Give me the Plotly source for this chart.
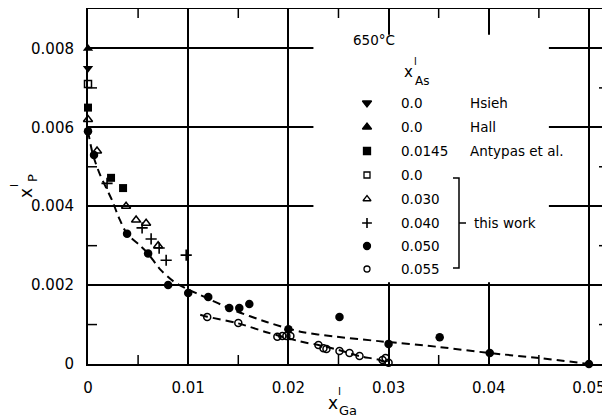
import plotly.graph_objects as go

# ---------------- data ----------------
hsieh_x = [0.0]
hsieh_y = [0.0075]
hall_x = [0.0]
hall_y = [0.0080]
antypas_x = [0.0, 0.0023, 0.0035]
antypas_y = [0.0065, 0.00472, 0.00446]
sq_open_x = [0.0]
sq_open_y = [0.0071]
tri_open_x = [0.0, 0.0009, 0.0038, 0.0048, 0.0058, 0.0070]
tri_open_y = [0.0062, 0.0054, 0.0040, 0.00365, 0.00357, 0.0030]
plus_x = [0.0019, 0.0054, 0.0063, 0.0071, 0.0078, 0.0098]
plus_y = [0.00458, 0.00345, 0.00317, 0.00294, 0.00263, 0.00276]
dot_x = [0.0, 0.0006, 0.0039, 0.0060, 0.0080, 0.0100, 0.0120, 0.0141, 0.0151,
         0.0161, 0.0200, 0.0251, 0.0300, 0.0351, 0.0401, 0.0500]
dot_y = [0.0059, 0.0053, 0.0033, 0.0028, 0.0020, 0.0018, 0.0017, 0.00142, 0.00142,
         0.00152, 0.00088, 0.00119, 0.00051, 0.00068, 0.00028, 0.0]
ring_x = [0.0119, 0.0150, 0.0189, 0.0194, 0.0198, 0.0202, 0.0230, 0.0235, 0.0238,
          0.0251, 0.0261, 0.0271, 0.0294, 0.0297, 0.0300]
ring_y = [0.00119, 0.00104, 0.00069, 0.00071, 0.00071, 0.00071, 0.00048, 0.0004,
          0.00038, 0.00033, 0.00028, 0.0002, 0.0001, 0.00015, 0.00003]

curve1_x = [0.0, 0.0005, 0.0012, 0.0024, 0.0031, 0.0039, 0.0052, 0.0060,
            0.0072, 0.0085, 0.0099, 0.0112, 0.0145, 0.0179, 0.0212, 0.0245, 0.0290,
            0.0351, 0.0400, 0.0451, 0.0500]
curve1_y = [0.0059, 0.0053, 0.0048, 0.00415, 0.0037, 0.0033, 0.0030, 0.0028,
            0.0024, 0.0021, 0.0019, 0.00175, 0.00137, 0.00106, 0.00082, 0.0007, 0.00058,
            0.00043, 0.00028, 0.00015, 0.0]
curve2_x = [0.0112, 0.0119, 0.0150, 0.0179, 0.0212, 0.0230, 0.0251, 0.0271, 0.0291, 0.0300]
curve2_y = [0.00125, 0.0012, 0.00103, 0.0008, 0.00057, 0.00048, 0.00035, 0.0002, 0.0001, 0.0]

x_tickvals = [0, 0.01, 0.02, 0.03, 0.04, 0.05]
x_ticktext = ["0", "0.01", "0.02", "0.03", "0.04", "0.05"]
y_tickvals = [0, 0.002, 0.004, 0.006, 0.008]
y_ticktext = ["0", "0.002", "0.004", "0.006", "0.008"]
x_minor_ticks = [0.005, 0.015, 0.025, 0.035, 0.045]
y_minor_ticks = [0.001, 0.003, 0.005, 0.007]

legend_values = ["0.0", "0.0", "0.0145", "0.0", "0.030", "0.040", "0.050", "0.055"]
legend_names = ["Hsieh", "Hall", "Antypas et al.", "", "", "", "", ""]
legend_symbols = ["triangle-down", "triangle-up", "square", "square-open",
                  "triangle-up-open", "cross-thin", "circle", "circle-open"]

FONT = "DejaVu Sans"
BLACK = "black"
X_RANGE = [0, 0.0519]
Y_RANGE = [0, 0.009]

# The page body has an 8px margin: the figure is offset by (8, 8) in the window.
OFF = 8
W, H = 610 - OFF, 419 - OFF
# plot area in window pixels
PL, PR, PT, PB = 88, 608, 9, 364
def px(x):
    return (x - PL) / (PR - PL)
def py(y):
    return (PB - y) / (PB - PT)

fig = go.Figure()

# dashed fitted curves
for cx, cy in [(curve1_x, curve1_y), (curve2_x, curve2_y)]:
    fig.add_trace(go.Scatter(x=cx, y=cy, mode="lines",
                             line=dict(color=BLACK, width=2, dash="8px,5px", shape="spline", smoothing=0.8),
                             hoverinfo="skip", showlegend=False, cliponaxis=False))

def add_pts(x, y, symbol, size, lw=1.5):
    fig.add_trace(go.Scatter(x=x, y=y, mode="markers", showlegend=False, cliponaxis=False,
                             marker=dict(symbol=symbol, size=size, color=BLACK,
                                         line=dict(color=BLACK, width=lw))))

add_pts(hsieh_x, hsieh_y, "triangle-down", 9, 0)
add_pts(hall_x, hall_y, "triangle-up", 9, 0)
add_pts(antypas_x, antypas_y, "square", 8, 0)
add_pts(sq_open_x, sq_open_y, "square-open", 7)
add_pts(tri_open_x, tri_open_y, "triangle-up-open", 8)
add_pts(plus_x, plus_y, "cross-thin", 8, 1.6)
add_pts(dot_x, dot_y, "circle", 8.5, 0)
add_pts(ring_x, ring_y, "circle-open", 7)

# ---------------- custom legend ----------------
row_px = [103, 127, 151, 175, 199, 223, 246, 269]
marker_px_x = 367
value_px_x = 399
name_px_x = 468
leg_sizes = [8, 8, 7, 6, 7, 7, 7, 6]
for i, sym in enumerate(legend_symbols):
    fig.add_trace(go.Scatter(x=[px(marker_px_x)], y=[py(row_px[i])], xaxis="x2", yaxis="y2",
                             mode="markers", showlegend=False, cliponaxis=False,
                             marker=dict(symbol=sym, size=leg_sizes[i], color=BLACK,
                                         line=dict(color=BLACK, width=1.6 if sym == "cross-thin" else 1.3))))

annotations = []
def ann(text, x, y, size=13.5, xanchor="left", angle=0):
    annotations.append(dict(text=text, x=x, y=y, xref="paper", yref="paper", showarrow=False,
                            xanchor=xanchor, yanchor="middle", textangle=angle,
                            font=dict(family=FONT, size=size, color=BLACK)))

for i in range(len(legend_values)):
    ann(legend_values[i], px(value_px_x), py(row_px[i]))
    if legend_names[i]:
        ann(legend_names[i], px(name_px_x), py(row_px[i]))
ann("this work", px(472), py(223))
ann("650°C", px(351), py(40))
# legend title x^l_As (stacked)
ann("x", px(408), py(72), size=15, xanchor="center")
ann("l", px(415.5), py(61), size=10, xanchor="center")
ann("As", px(422), py(81), size=12, xanchor="center")

# axis titles (stacked super/subscripts)
ann("x", px(333), py(403), size=17, xanchor="center")
ann("l", px(339), py(392), size=11, xanchor="center")
ann("Ga", px(348), py(410), size=13, xanchor="center")
ann("x", px(26), py(193), size=17, xanchor="center", angle=-90)
ann("l", px(14), py(186), size=11, xanchor="center", angle=-90)
ann("P", px(32), py(178), size=13, xanchor="center", angle=-90)

shapes = [
    # white panel behind legend (interrupts grid lines)
    dict(type="rect", xref="x", yref="y", x0=0.0225, x1=0.046, y0=0.00207, y1=0.00835,
         fillcolor="white", line=dict(width=0), layer="between"),
    # bracket for "this work"
    dict(type="path", xref="paper", yref="paper",
         path=f"M {px(453)},{py(178)} L {px(459)},{py(178)} L {px(459)},{py(268)} L {px(453)},{py(268)}",
         line=dict(color=BLACK, width=1.5)),
    dict(type="line", xref="paper", yref="paper", x0=px(459), x1=px(466), y0=py(223), y1=py(223),
         line=dict(color=BLACK, width=1.5)),
]

# inward minor ticks on all four sides
TL = 9
tl_y = TL / (PB - PT)
tl_x = TL / (PR - PL)
for xv in x_minor_ticks:
    for a, b in [(0, tl_y), (1, 1 - tl_y)]:
        shapes.append(dict(type="line", xref="x", yref="paper", x0=xv, x1=xv, y0=a, y1=b,
                           line=dict(color=BLACK, width=1.5), layer="above"))
for yv in y_minor_ticks:
    for a, b in [(0, tl_x), (1, 1 - tl_x)]:
        shapes.append(dict(type="line", xref="paper", yref="y", x0=a, x1=b, y0=yv, y1=yv,
                           line=dict(color=BLACK, width=1.5), layer="above"))

axis_common = dict(showgrid=True, gridcolor=BLACK, gridwidth=1.5, showline=True, linewidth=2,
                   linecolor=BLACK, mirror=True, ticks="", zeroline=False, automargin=False,
                   tickfont=dict(family=FONT, size=15, color=BLACK), ticklabelstandoff=9)

fig.update_layout(
    width=W, height=H,
    margin=dict(l=PL - OFF, r=610 - PR, t=PT - OFF, b=419 - PB),
    paper_bgcolor="white", plot_bgcolor="white",
    showlegend=False,
    xaxis=dict(range=X_RANGE, tickmode="array", tickvals=x_tickvals, ticktext=x_ticktext, **axis_common),
    yaxis=dict(range=Y_RANGE, tickmode="array", tickvals=y_tickvals, ticktext=y_ticktext, **axis_common),
    xaxis2=dict(range=[0, 1], overlaying="x", visible=False, fixedrange=True),
    yaxis2=dict(range=[0, 1], overlaying="y", visible=False, fixedrange=True),
    annotations=annotations,
    shapes=shapes,
)

fig.write_html("out.html")
